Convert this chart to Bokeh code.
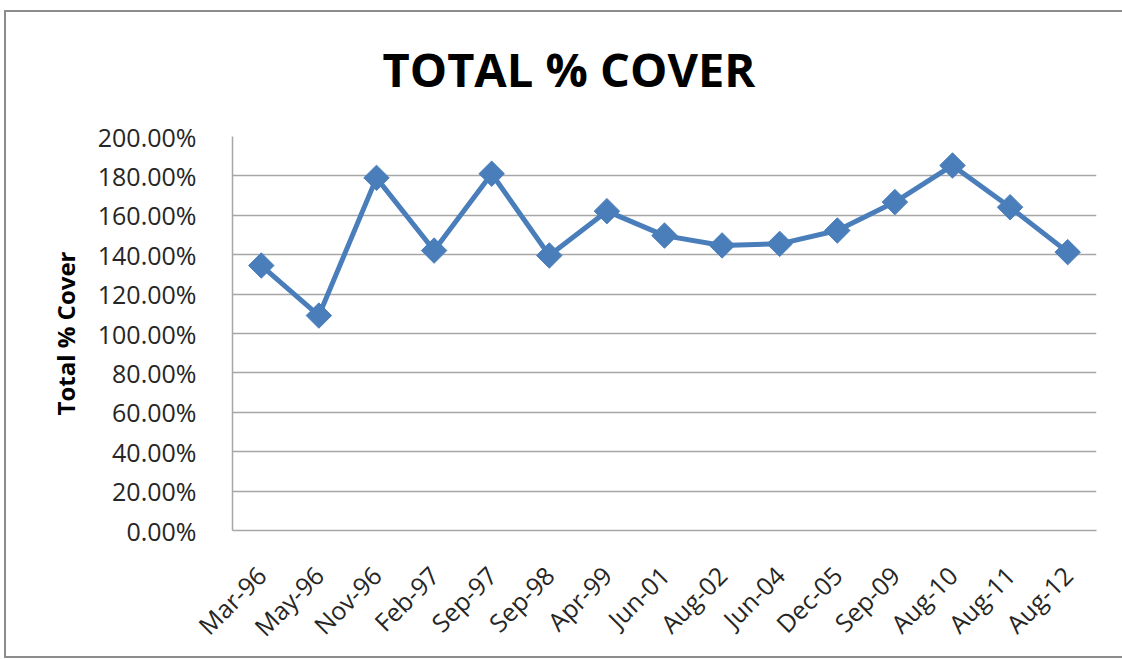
from bokeh.plotting import figure
from bokeh.models import FixedTicker, NumeralTickFormatter, Title
from bokeh.embed import file_html
from bokeh.resources import INLINE
import math

dates = ["Mar-96", "May-96", "Nov-96", "Feb-97", "Sep-97", "Sep-98", "Apr-99", "Jun-01",
         "Aug-02", "Jun-04", "Dec-05", "Sep-09", "Aug-10", "Aug-11", "Aug-12"]
total_cover = [1.345, 1.091, 1.790, 1.421, 1.811, 1.396, 1.621, 1.497,
               1.447, 1.455, 1.523, 1.667, 1.853, 1.641, 1.413]
y_ticks = [0.0, 0.2, 0.4, 0.6, 0.8, 1.0, 1.2, 1.4, 1.6, 1.8, 2.0]
chart_title = "TOTAL % COVER"

FONT = "Open Sans"
GRID = "#a6a6a6"
BLUE = "#4a7ebb"
EDGE = "#8c8c8c"

p = figure(x_range=dates, y_range=(0, 2.0), frame_width=864, frame_height=394,
           min_border_left=228, min_border_right=26, min_border_top=136, min_border_bottom=128,
           output_backend="svg", toolbar_location=None, background_fill_color="white",
           border_fill_color=None)
p.outline_line_color = None
# outer chart-area frame (top, left, bottom edges) drawn as inset shadows
p.styles = {"margin-left": "4px",
            "box-shadow": ("inset 0 10px 0 0 #ffffff, inset 0 12px 0 0 " + EDGE +
                           ", inset 2px 0 0 0 " + EDGE + ", inset 0 -2px 0 0 " + EDGE)}

title = Title(text=chart_title, align="left", vertical_align="top", text_font=FONT,
              text_font_size="47px", text_font_style="bold", text_color="#000000",
              standoff=68, offset=150)
p.add_layout(title, "above")

p.line(x=dates, y=total_cover, line_color=BLUE, line_width=5)
p.scatter(x=dates, y=total_cover, marker="square", angle=math.pi / 4, size=18,
          fill_color=BLUE, line_color=BLUE)

p.yaxis.ticker = FixedTicker(ticks=y_ticks)
p.yaxis.formatter = NumeralTickFormatter(format="0.00%")
p.yaxis.axis_label = "Total % Cover"
p.yaxis.axis_label_text_font = FONT
p.yaxis.axis_label_text_font_size = "24px"
p.yaxis.axis_label_text_font_style = "bold"
p.yaxis.axis_label_text_color = "#000000"
p.yaxis.axis_label_standoff = 13
p.yaxis.major_label_text_font = FONT
p.yaxis.major_label_text_font_size = "25px"
p.yaxis.major_label_text_color = "#262626"
p.yaxis.major_label_standoff = 30
p.yaxis.major_tick_line_color = None
p.yaxis.minor_tick_line_color = None
p.yaxis.axis_line_color = GRID
p.yaxis.axis_line_width = 1.5

p.xaxis.major_label_orientation = math.pi / 4
p.xaxis.major_label_text_font = FONT
p.xaxis.major_label_text_font_size = "25px"
p.xaxis.major_label_text_color = "#262626"
p.xaxis.major_label_standoff = 34
p.xaxis.major_tick_line_color = None
p.xaxis.axis_line_color = GRID
p.xaxis.axis_line_width = 1.5

p.xgrid.grid_line_color = None
p.ygrid.grid_line_color = GRID
p.ygrid.grid_line_width = 1.5

open("out.html", "w").write(file_html(p, INLINE))
